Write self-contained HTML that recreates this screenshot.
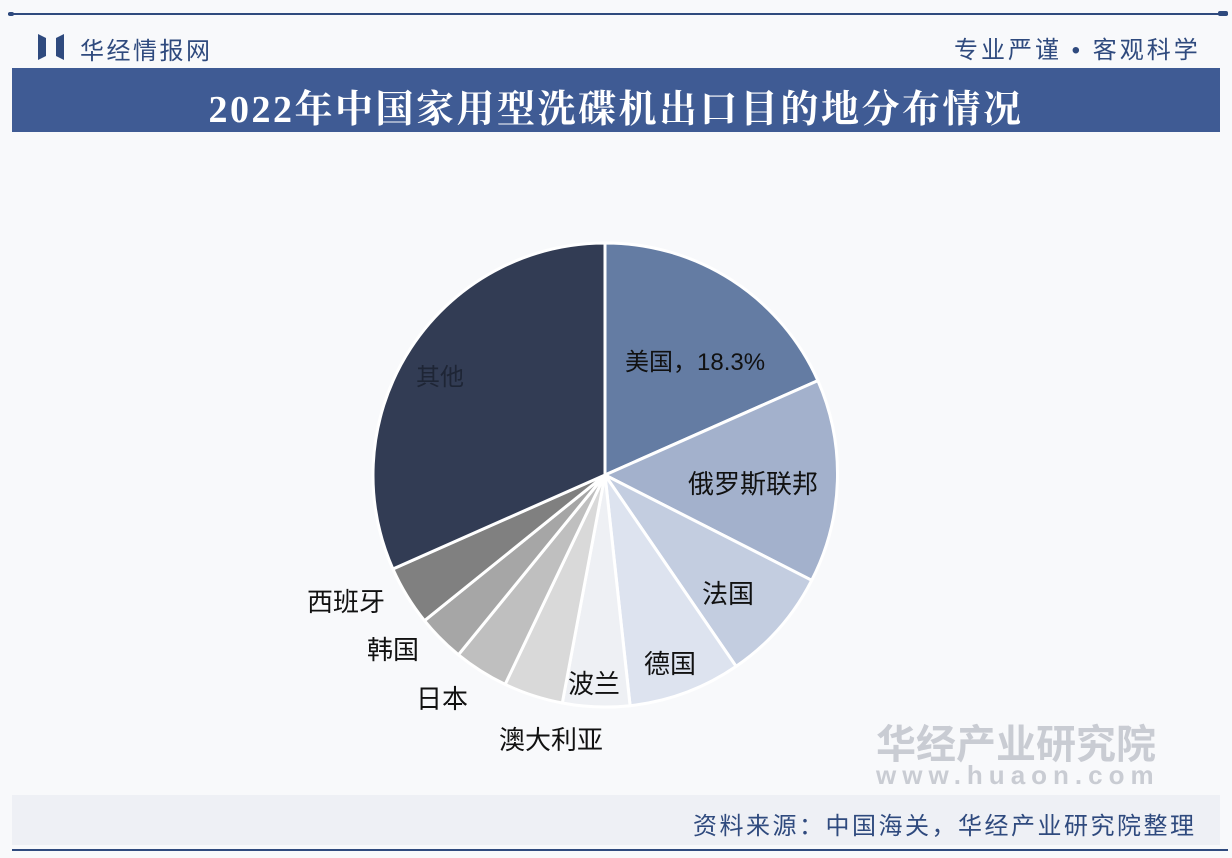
<!DOCTYPE html>
<html><head><meta charset="utf-8"><style>
body{margin:0;width:1232px;height:858px;background:#fff;overflow:hidden;position:relative;font-family:"Liberation Sans","Noto Sans CJK SC",sans-serif}
.t{position:absolute;white-space:nowrap}
</style></head><body>
<div style="position:absolute;left:0;top:0;width:1232px;height:858px;background:#f8f9fb"></div>
<div style="position:absolute;left:8px;top:13px;width:1220px;height:2px;background:#2f4a7e"></div>
<div style="position:absolute;left:8px;top:12px;width:6px;height:4px;background:#2f4a7e;border-radius:2px"></div>
<div style="position:absolute;left:1218px;top:11px;width:10px;height:5px;background:#2f4a7e;border-radius:2px"></div>
<svg style="position:absolute;left:38px;top:34px" width="26" height="26"><polygon points="0,0 8,4 8,22 0,26" fill="#2f4a7e"/><polygon points="26,0 18,4 18,22 26,26" fill="#2f4a7e"/></svg>
<div class="t" style="left:80px;top:31px;font-size:24px;color:#2f4a7e;letter-spacing:2.5px">华经情报网</div>
<div class="t" style="left:954px;top:30px;font-size:24px;color:#2f4a7e;letter-spacing:3px">专业严谨 • 客观科学</div>
<div style="position:absolute;left:12px;top:68px;width:1208px;height:64px;background:#3f5b94"></div>
<div class="t" style="left:0;width:1232px;text-align:center;top:78px;font-size:38px;letter-spacing:2.5px;font-weight:bold;color:#fff;font-family:'Liberation Serif','Noto Serif CJK SC',serif">2022年中国家用型洗碟机出口目的地分布情况</div>
<div style="position:absolute;left:12px;top:795px;width:1208px;height:50px;background:#eef0f5"></div>
<div class="t" style="left:693px;top:806px;font-size:24px;color:#2f4a7e;letter-spacing:2.5px">资料来源：中国海关，华经产业研究院整理</div>
<div style="position:absolute;left:12px;top:849px;width:1216px;height:2px;background:#2f4a7e"></div>
<div class="t" style="left:876px;top:712px;font-size:40px;color:#c9ccd3;font-weight:bold">华经产业研究院</div>
<div class="t" style="left:876px;top:760px;font-size:26px;color:#c9ccd3;letter-spacing:6px;font-weight:bold">www.huaon.com</div>
<svg style="position:absolute;left:0;top:0" width="1232" height="858">
<g stroke="#fff" stroke-width="3" stroke-linejoin="round">
<path d="M605,475 L605,243 A232,232 0 0 1 817.9,380.6 Z" fill="#647ca3"/>
<path d="M605,475 L817.9,380.6 A232,232 0 0 1 811.7,580.3 Z" fill="#a3b1cc"/>
<path d="M605,475 L811.7,580.3 A232,232 0 0 1 736.1,666.4 Z" fill="#c3cde0"/>
<path d="M605,475 L736.1,666.4 A232,232 0 0 1 630.1,705.7 Z" fill="#dde3ef"/>
<path d="M605,475 L630.1,705.7 A232,232 0 0 1 562.3,703 Z" fill="#eef0f4"/>
<path d="M605,475 L562.3,703 A232,232 0 0 1 505.1,684.4 Z" fill="#d9d9d9"/>
<path d="M605,475 L505.1,684.4 A232,232 0 0 1 458.4,654.8 Z" fill="#bfbfbf"/>
<path d="M605,475 L458.4,654.8 A232,232 0 0 1 424.5,620.7 Z" fill="#a6a6a6"/>
<path d="M605,475 L424.5,620.7 A232,232 0 0 1 392.9,569 Z" fill="#808080"/>
<path d="M605,475 L392.9,569 A232,232 0 0 1 605,243 Z" fill="#323c54"/>
</g>
</svg>
<div class="t" style="left:416px;top:357px;font-size:24px;color:#1e2535">其他</div>
<div class="t" style="left:625px;top:342px;font-size:24px;color:#111">美国，18.3%</div>
<div class="t" style="left:688px;top:464px;font-size:26px;color:#111">俄罗斯联邦</div>
<div class="t" style="left:702px;top:574px;font-size:26px;color:#111">法国</div>
<div class="t" style="left:644px;top:644px;font-size:26px;color:#111">德国</div>
<div class="t" style="left:568px;top:664px;font-size:26px;color:#111">波兰</div>
<div class="t" style="left:499px;top:720px;font-size:26px;color:#111">澳大利亚</div>
<div class="t" style="left:416px;top:679px;font-size:26px;color:#111">日本</div>
<div class="t" style="left:367px;top:630px;font-size:26px;color:#111">韩国</div>
<div class="t" style="left:307px;top:582px;font-size:26px;color:#111">西班牙</div>
</body></html>
